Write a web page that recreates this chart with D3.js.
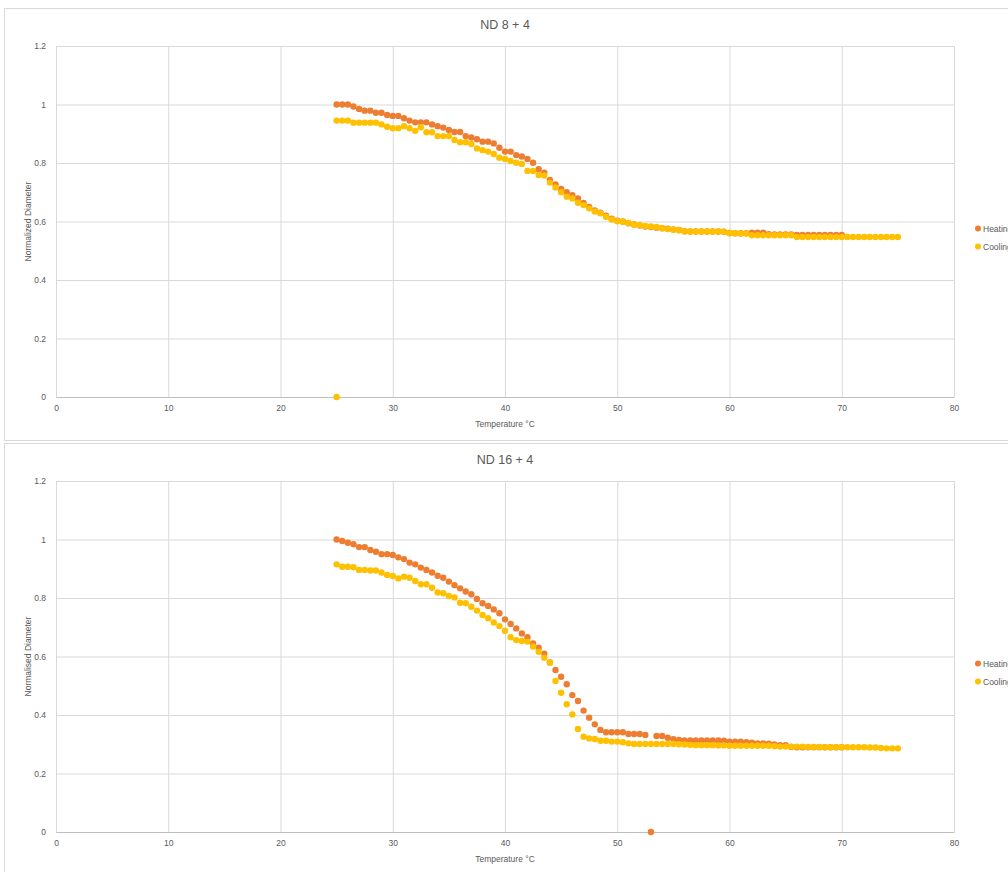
<!DOCTYPE html>
<html>
<head>
<meta charset="utf-8">
<script src="https://cdn.jsdelivr.net/npm/d3@7"></script>
<style>
  body { margin: 0; background: #fff; }
  svg { display: block; font-family: "Liberation Sans", Arial, sans-serif; }
</style>
</head>
<body>
<div id="chart"></div>
<script>
// temperatures, 25 .. 75 °C in 0.5 steps (heating runs stop at 70)
const temps = [25, 25.5, 26, 26.5, 27, 27.5, 28, 28.5, 29, 29.5,
  30, 30.5, 31, 31.5, 32, 32.5, 33, 33.5, 34, 34.5,
  35, 35.5, 36, 36.5, 37, 37.5, 38, 38.5, 39, 39.5,
  40, 40.5, 41, 41.5, 42, 42.5, 43, 43.5, 44, 44.5,
  45, 45.5, 46, 46.5, 47, 47.5, 48, 48.5, 49, 49.5,
  50, 50.5, 51, 51.5, 52, 52.5, 53, 53.5, 54, 54.5,
  55, 55.5, 56, 56.5, 57, 57.5, 58, 58.5, 59, 59.5,
  60, 60.5, 61, 61.5, 62, 62.5, 63, 63.5, 64, 64.5,
  65, 65.5, 66, 66.5, 67, 67.5, 68, 68.5, 69, 69.5,
  70, 70.5, 71, 71.5, 72, 72.5, 73, 73.5, 74, 74.5, 75];

// ND 8 + 4
const heating8 = [1.000, 1.000, 1.000, 0.993, 0.985, 0.979, 0.979, 0.972, 0.972, 0.964,
  0.961, 0.961, 0.953, 0.945, 0.939, 0.939, 0.939, 0.932, 0.926, 0.921,
  0.913, 0.906, 0.906, 0.892, 0.887, 0.881, 0.873, 0.873, 0.867, 0.852,
  0.839, 0.839, 0.827, 0.822, 0.814, 0.801, 0.779, 0.767, 0.742, 0.727,
  0.711, 0.700, 0.690, 0.679, 0.663, 0.650, 0.638, 0.630, 0.620, 0.610,
  0.603, 0.600, 0.594, 0.590, 0.586, 0.583, 0.581, 0.579, 0.577, 0.575,
  0.573, 0.571, 0.567, 0.566, 0.566, 0.566, 0.566, 0.566, 0.566, 0.565,
  0.561, 0.560, 0.560, 0.560, 0.562, 0.562, 0.562, 0.557, 0.556, 0.556,
  0.556, 0.556, 0.554, 0.554, 0.554, 0.554, 0.554, 0.554, 0.554, 0.554,
  0.554];
const cooling8 = [0.945, 0.945, 0.945, 0.938, 0.938, 0.938, 0.938, 0.938, 0.932, 0.924,
  0.919, 0.919, 0.926, 0.919, 0.910, 0.922, 0.905, 0.905, 0.892, 0.892,
  0.892, 0.879, 0.871, 0.871, 0.865, 0.850, 0.844, 0.839, 0.831, 0.818,
  0.814, 0.807, 0.801, 0.797, 0.773, 0.773, 0.759, 0.757, 0.733, 0.716,
  0.700, 0.685, 0.679, 0.664, 0.656, 0.645, 0.634, 0.628, 0.616, 0.607,
  0.601, 0.599, 0.595, 0.590, 0.588, 0.585, 0.583, 0.581, 0.577, 0.574,
  0.572, 0.570, 0.566, 0.566, 0.566, 0.566, 0.566, 0.566, 0.565, 0.565,
  0.560, 0.560, 0.559, 0.559, 0.553, 0.553, 0.553, 0.553, 0.553, 0.553,
  0.553, 0.553, 0.547, 0.547, 0.547, 0.547, 0.547, 0.547, 0.547, 0.547,
  0.547, 0.547, 0.547, 0.547, 0.547, 0.547, 0.547, 0.547, 0.547, 0.547,
  0.547];
const cooling8Extra = [[25, 0]];

// ND 16 + 4
const heating16 = [1.000, 0.995, 0.989, 0.984, 0.974, 0.974, 0.964, 0.958, 0.950, 0.950,
  0.947, 0.939, 0.933, 0.921, 0.915, 0.904, 0.896, 0.887, 0.876, 0.869,
  0.856, 0.844, 0.833, 0.822, 0.813, 0.797, 0.782, 0.773, 0.761, 0.748,
  0.727, 0.711, 0.696, 0.679, 0.666, 0.645, 0.630, 0.610, 0.580, 0.554,
  0.531, 0.505, 0.468, 0.448, 0.415, 0.391, 0.368, 0.349, 0.341, 0.341,
  0.341, 0.341, 0.335, 0.335, 0.335, 0.332, 0.000, 0.328, 0.328, 0.322,
  0.317, 0.315, 0.313, 0.313, 0.313, 0.313, 0.313, 0.313, 0.313, 0.312,
  0.309, 0.309, 0.309, 0.307, 0.305, 0.303, 0.303, 0.302, 0.299, 0.297,
  0.297, 0.291, 0.290, 0.290, 0.290, 0.290, 0.290, 0.290, 0.290, 0.290,
  0.290];
const cooling16 = [0.915, 0.907, 0.907, 0.905, 0.896, 0.896, 0.894, 0.894, 0.887, 0.879,
  0.875, 0.867, 0.873, 0.869, 0.858, 0.847, 0.847, 0.835, 0.819, 0.816,
  0.807, 0.802, 0.784, 0.782, 0.770, 0.757, 0.742, 0.731, 0.716, 0.704,
  0.688, 0.666, 0.656, 0.653, 0.651, 0.634, 0.616, 0.596, 0.579, 0.516,
  0.476, 0.437, 0.402, 0.352, 0.326, 0.320, 0.318, 0.312, 0.312, 0.309,
  0.309, 0.307, 0.303, 0.301, 0.301, 0.301, 0.301, 0.301, 0.301, 0.301,
  0.301, 0.300, 0.299, 0.298, 0.297, 0.297, 0.297, 0.297, 0.296, 0.296,
  0.295, 0.295, 0.295, 0.295, 0.295, 0.295, 0.295, 0.295, 0.293, 0.292,
  0.292, 0.292, 0.292, 0.292, 0.291, 0.291, 0.291, 0.290, 0.290, 0.290,
  0.290, 0.290, 0.290, 0.290, 0.290, 0.289, 0.289, 0.287, 0.286, 0.286,
  0.286];

const xTicks = [0, 10, 20, 30, 40, 50, 60, 70, 80];
const yTicks = [0, 0.2, 0.4, 0.6, 0.8, 1, 1.2];
const yTickLabels = ["0", "0.2", "0.4", "0.6", "0.8", "1", "1.2"];
const seriesNames = ["Heating", "Cooling"];
const seriesColors = ["#ED7D31", "#FFC000"];

const W = 1008, H = 872;
const svg = d3.select("#chart").append("svg")
  .attr("width", W)
  .attr("height", H);

// chart frames
svg.append("rect").attr("x", 4.5).attr("y", 8.5).attr("width", 1010).attr("height", 432)
  .attr("fill", "#fff").attr("stroke", "#d9d9d9");
svg.append("rect").attr("x", 4.5).attr("y", 443.5).attr("width", 1010).attr("height", 440)
  .attr("fill", "#fff").attr("stroke", "#d9d9d9");

function drawChart(top, title, yTitle, heating, cooling, coolingExtra) {
  const m = { left: 56, right: 954, top: top + 38, bottom: top + 389 };
  const x = d3.scaleLinear().domain([0, 80]).range([m.left, m.right]);
  const y = d3.scaleLinear().domain([0, 1.2]).range([m.bottom, m.top]);
  const g = svg.append("g");

  // gridlines
  g.append("g")
    .attr("transform", `translate(0,${m.bottom})`)
    .call(d3.axisBottom(x).tickValues(xTicks).tickSize(-(m.bottom - m.top)).tickFormat(""))
    .call(s => s.select(".domain").remove())
    .call(s => s.selectAll("line").attr("stroke", "#d9d9d9"));
  g.append("g")
    .attr("transform", `translate(${m.left},0)`)
    .call(d3.axisLeft(y).tickValues(yTicks).tickSize(-(m.right - m.left)).tickFormat(""))
    .call(s => s.select(".domain").remove())
    .call(s => s.selectAll("line").attr("stroke", "#d9d9d9"));

  // axis lines and labels
  const xa = g.append("g")
    .attr("transform", `translate(0,${m.bottom})`)
    .call(d3.axisBottom(x).tickValues(xTicks).tickSize(0).tickPadding(8));
  xa.select(".domain").attr("stroke", "#bfbfbf");
  xa.selectAll("text").attr("fill", "#595959").attr("font-size", 8.5);

  const ya = g.append("g")
    .attr("transform", `translate(${m.left},0)`)
    .call(d3.axisLeft(y).tickValues(yTicks).tickSize(0).tickPadding(10)
      .tickFormat((d, i) => yTickLabels[i]));
  ya.select(".domain").remove();
  ya.selectAll("text").attr("fill", "#595959").attr("font-size", 8.5);

  // titles
  g.append("text")
    .attr("x", (m.left + m.right) / 2).attr("y", top + 21)
    .attr("text-anchor", "middle").attr("fill", "#595959").attr("font-size", 12.5)
    .text(title);
  g.append("text")
    .attr("x", (m.left + m.right) / 2).attr("y", m.bottom + 30)
    .attr("text-anchor", "middle").attr("fill", "#595959").attr("font-size", 8.5)
    .text("Temperature °C");
  g.append("text")
    .attr("transform", `translate(31,${(m.top + m.bottom) / 2}) rotate(-90)`)
    .attr("text-anchor", "middle").attr("fill", "#595959").attr("font-size", 8.5)
    .text(yTitle);

  // points
  const heatPts = heating.map((v, i) => [temps[i], v]);
  const coolPts = cooling.map((v, i) => [temps[i], v]).concat(coolingExtra);
  [heatPts, coolPts].forEach((pts, k) => {
    g.append("g").selectAll("circle")
      .data(pts)
      .enter().append("circle")
      .attr("cx", d => x(d[0]))
      .attr("cy", d => y(d[1]))
      .attr("r", 3.2)
      .attr("fill", seriesColors[k]);
  });

  // legend
  const mid = (m.top + m.bottom) / 2;
  seriesNames.forEach((name, k) => {
    const ly = mid + 7 + k * 18;
    g.append("circle").attr("cx", 978).attr("cy", ly).attr("r", 3).attr("fill", seriesColors[k]);
    g.append("text").attr("x", 983).attr("y", ly + 3)
      .attr("fill", "#595959").attr("font-size", 8.5).text(name);
  });
}

drawChart(8, "ND 8 + 4", "Normalized Diameter", heating8, cooling8, cooling8Extra);
drawChart(443, "ND 16 + 4", "Normalised Diameter", heating16, cooling16, []);
</script>
</body>
</html>
